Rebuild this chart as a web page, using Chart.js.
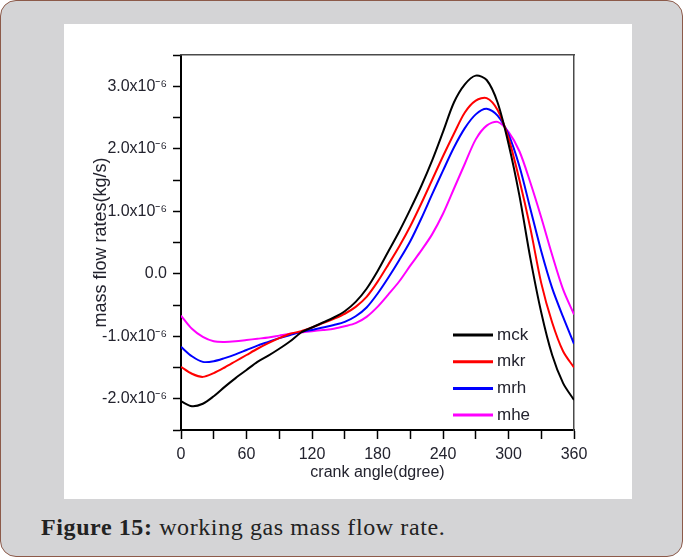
<!DOCTYPE html>
<html>
<head>
<meta charset="utf-8">
<script src="https://cdn.jsdelivr.net/npm/chart.js@4.4.0/dist/chart.umd.min.js"></script>
<style>
  html, body { margin:0; padding:0; }
  body { width:683px; height:557px; position:relative; overflow:hidden; background:#fff; }
  .frame { position:absolute; left:0; top:0; width:681px; height:555px; background:#d4d4d6; border:1px solid #8c5a4a; border-radius:16px; }
  .panel { position:absolute; left:64px; top:24px; width:568px; height:475px; background:#fff; }
  .caption { position:absolute; left:41px; top:514px; font-family:'Liberation Serif', serif; font-size:24px; letter-spacing:0.6px; color:#222; white-space:nowrap; }
</style>
</head>
<body>
<div class="frame"></div>
<div class="panel"><canvas id="c" width="568" height="475"></canvas></div>
<div class="caption"><b>Figure 15:</b> working gas mass flow rate.</div>
<script>
// crank angle (degree)
const angles = [0,10,20,30,40,50,60,70,80,90,100,110,120,130,140,150,160,170,180,
                190,200,210,220,230,240,250,260,270,280,290,300,310,320,330,340,350,360];

// mass flow rates, x10^-6 kg/s
const mck = [-2.04,-2.12,-2.08,-1.96,-1.81,-1.67,-1.54,-1.41,-1.31,-1.20,-1.08,-0.94,-0.86,-0.78,-0.70,-0.60,-0.45,-0.24,0.04,
             0.36,0.68,1.03,1.40,1.81,2.27,2.74,3.03,3.17,3.10,2.74,2.08,1.25,0.25,-0.62,-1.30,-1.75,-2.02];
const mkr = [-1.49,-1.60,-1.65,-1.59,-1.50,-1.40,-1.30,-1.20,-1.11,-1.03,-0.96,-0.92,-0.86,-0.79,-0.72,-0.64,-0.53,-0.37,-0.13,
             0.15,0.44,0.76,1.12,1.50,1.88,2.24,2.58,2.77,2.81,2.62,2.17,1.50,0.73,-0.15,-0.78,-1.24,-1.50];
const mrh = [-1.17,-1.32,-1.41,-1.40,-1.35,-1.29,-1.22,-1.15,-1.09,-1.03,-0.98,-0.93,-0.90,-0.86,-0.82,-0.77,-0.68,-0.54,-0.32,
             -0.06,0.22,0.52,0.88,1.27,1.65,2.02,2.33,2.55,2.64,2.53,2.23,1.72,1.04,0.36,-0.23,-0.69,-1.12];
const mhe = [-0.67,-0.88,-1.01,-1.08,-1.09,-1.08,-1.06,-1.04,-1.02,-0.99,-0.96,-0.94,-0.92,-0.90,-0.88,-0.84,-0.79,-0.69,-0.53,
             -0.33,-0.12,0.13,0.37,0.63,0.96,1.36,1.76,2.15,2.37,2.43,2.27,1.96,1.46,0.90,0.30,-0.25,-0.65];

const seriesNames = ['mck','mkr','mrh','mhe'];
const seriesColors = ['#000000','#ff0000','#0000ff','#ff00ff'];
const xTicks = [0,60,120,180,240,300,360];
const yTicks = [-2,-1,0,1,2,3];

const FONT = "'Liberation Sans',Arial,sans-serif";
const TXT = '#23232e';

const pts = arr => angles.map((a, i) => ({ x:a, y:arr[i] }));

// legend drawn inside the plot, lower right
const insideLegend = {
  id: 'insideLegend',
  afterDatasetsDraw(chart) {
    const { ctx, chartArea } = chart;
    ctx.save();
    ctx.font = `17px ${FONT}`;
    ctx.textBaseline = 'middle';
    ctx.fillStyle = TXT;
    chart.data.datasets.forEach((ds, i) => {
      const y = chartArea.bottom - 95 + i * 26.7;
      const x = chartArea.right - 121;
      ctx.strokeStyle = ds.borderColor;
      ctx.lineWidth = 3;
      ctx.beginPath(); ctx.moveTo(x, y); ctx.lineTo(x + 40, y); ctx.stroke();
      ctx.fillText(ds.label, x + 44, y);
    });
    ctx.restore();
  }
};

new Chart(document.getElementById('c'), {
  type: 'line',
  data: {
    datasets: [mck, mkr, mrh, mhe].map((d, i) => ({
      label: seriesNames[i], data: pts(d),
      borderColor: seriesColors[i], backgroundColor: seriesColors[i],
      borderWidth: 2, pointRadius: 0, tension: 0.3, fill: false
    }))
  },
  options: {
    responsive: false, animation: false,
    layout: { padding: { left:0, top:31, right:58, bottom:0 } },
    plugins: { legend: { display:false }, tooltip: { enabled:false } },
    scales: {
      x: {
        type:'linear', position:'bottom', min:0, max:360,
        ticks: { stepSize:30, autoSkip:false, maxRotation:0, padding:6, color:TXT,
                 font:{ family:FONT, size:16 },
                 callback: v => xTicks.includes(v) ? String(v) : '' },
        grid: { drawOnChartArea:false, tickLength:9, tickColor:'#000', tickWidth:1.5 },
        border: { color:'#000', width:2 },
        title: { display:true, text:'crank angle(dgree)', color:TXT,
                 font:{ family:FONT, size:16 }, padding:{ top:0, bottom:17 } },
        afterFit: s => { s.height = 69; }
      },
      y: {
        type:'linear', position:'left', min:-2.5, max:3.5,
        ticks: { stepSize:0.5, autoSkip:false, padding:6, color:TXT,
                 font:{ family:FONT, size:16 },
                 callback: v => {
                   const k = yTicks.find(t => Math.abs(t - v) < 1e-9);
                   if (k === undefined) return '';
                   return k === 0 ? '0.0' : k.toFixed(1) + 'x10\u207B\u2076';
                 } },
        grid: { drawOnChartArea:false, tickLength:8, tickColor:'#000', tickWidth:1.5 },
        border: { color:'#000', width:2 },
        title: { display:true, text:'mass flow rates(kg/s)', color:TXT,
                 font:{ family:FONT, size:18 }, padding:{ top:26, bottom:0 } },
        afterFit: s => { s.width = 117; }
      },
      x2: {
        type:'linear', position:'top', min:0, max:360,
        ticks: { display:false }, grid: { display:false, drawTicks:false },
        border: { color:'#4a4a4a', width:1.5 },
        afterFit: s => { s.height = 0; }
      },
      y2: {
        type:'linear', position:'right', min:-2.5, max:3.5,
        ticks: { display:false }, grid: { display:false, drawTicks:false },
        border: { color:'#4a4a4a', width:1.5 },
        afterFit: s => { s.width = 0; }
      }
    }
  },
  plugins: [insideLegend]
});
</script>
</body>
</html>
